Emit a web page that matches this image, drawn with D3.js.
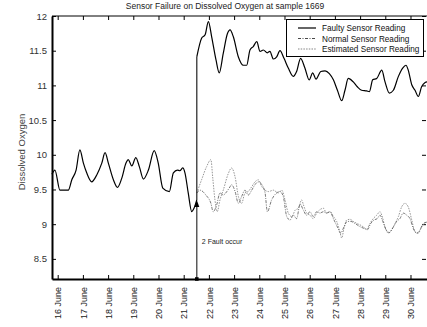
<!DOCTYPE html>
<html>
<head>
<meta charset="utf-8">
<script src="https://cdn.jsdelivr.net/npm/d3@7"></script>
<style>
  html, body { margin: 0; padding: 0; background: #fff; }
  svg { display: block; }
  text { font-family: Arial, "Liberation Sans", sans-serif; }
</style>
</head>
<body>
<svg id="chart" width="427" height="327"></svg>
<script>
// Time axis is in days of June; values are dissolved oxygen readings.
const dayTicks = [16, 17, 18, 19, 20, 21, 22, 23, 24, 25, 26, 27, 28, 29, 30];
const valueTicks = [8.5, 9, 9.5, 10, 10.5, 11, 11.5, 12];
const faultDay = 21.52;

// Faulty sensor: healthy readings up to the fault, then the biased readings after it
const faultyDaysBefore = [15.77, 15.89, 16.09, 16.42, 16.56, 16.73, 16.88, 17.02, 17.15, 17.35, 17.55, 17.75, 17.88, 18.01, 18.21, 18.37, 18.54, 18.71, 18.80, 18.94, 19.10, 19.24, 19.40, 19.60, 19.83, 19.99, 20.17, 20.43, 20.59, 20.75, 20.85, 20.96, 21.05, 21.18, 21.32, 21.41, 21.52];
const faultyValuesBefore = [9.72, 9.78, 9.49, 9.49, 9.64, 9.78, 10.07, 9.88, 9.74, 9.61, 9.71, 9.88, 10.03, 9.88, 9.64, 9.53, 9.66, 9.88, 9.93, 9.84, 9.96, 9.83, 9.65, 9.78, 10.06, 9.88, 9.52, 9.47, 9.74, 9.78, 9.77, 9.81, 9.74, 9.45, 9.18, 9.23, 9.35];
const faultyDaysAfter = [21.52, 21.71, 21.85, 21.98, 22.11, 22.28, 22.41, 22.57, 22.73, 22.84, 22.97, 23.17, 23.37, 23.50, 23.63, 23.76, 23.90, 24.03, 24.16, 24.32, 24.42, 24.56, 24.69, 24.82, 24.98, 25.15, 25.35, 25.48, 25.64, 25.81, 25.98, 26.12, 26.25, 26.44, 26.61, 26.78, 26.94, 27.10, 27.27, 27.40, 27.53, 27.73, 27.89, 28.06, 28.26, 28.37, 28.50, 28.66, 28.86, 28.99, 29.16, 29.32, 29.52, 29.69, 29.82, 29.91, 30.05, 30.18, 30.31, 30.44, 30.58, 30.66];
const faultyValuesAfter = [11.41, 11.68, 11.73, 11.92, 11.70, 11.37, 11.18, 11.46, 11.74, 11.80, 11.70, 11.41, 11.29, 11.29, 11.51, 11.56, 11.63, 11.49, 11.51, 11.47, 11.49, 11.38, 11.41, 11.50, 11.39, 11.25, 11.13, 11.20, 11.39, 11.25, 11.08, 11.18, 11.09, 11.20, 11.21, 11.17, 11.08, 10.93, 10.78, 10.93, 11.10, 11.05, 10.98, 10.93, 10.92, 10.91, 11.08, 11.10, 11.22, 11.05, 10.89, 10.93, 11.13, 11.25, 11.29, 11.22, 11.01, 10.93, 10.84, 10.98, 11.04, 11.05];

const normalDays = [21.52, 21.65, 21.88, 22.08, 22.17, 22.31, 22.44, 22.57, 22.71, 22.84, 22.90, 23.04, 23.17, 23.30, 23.43, 23.56, 23.70, 23.83, 23.96, 24.10, 24.23, 24.32, 24.49, 24.69, 24.82, 24.95, 25.09, 25.22, 25.35, 25.48, 25.62, 25.75, 25.88, 26.01, 26.14, 26.28, 26.41, 26.54, 26.67, 26.81, 26.94, 27.10, 27.23, 27.36, 27.49, 27.63, 27.80, 27.97, 28.15, 28.29, 28.42, 28.55, 28.68, 28.79, 28.90, 29.03, 29.16, 29.32, 29.45, 29.58, 29.71, 29.85, 29.98, 30.11, 30.25, 30.38, 30.51, 30.66];
const normalValues = [9.45, 9.49, 9.42, 9.30, 9.18, 9.28, 9.45, 9.42, 9.47, 9.54, 9.57, 9.47, 9.30, 9.40, 9.49, 9.42, 9.49, 9.57, 9.61, 9.57, 9.45, 9.18, 9.35, 9.45, 9.47, 9.40, 9.11, 9.06, 9.13, 9.08, 9.29, 9.20, 9.13, 9.18, 9.11, 9.18, 9.16, 9.18, 9.16, 9.18, 9.08, 8.96, 8.87, 8.96, 9.04, 9.04, 9.01, 8.97, 8.94, 8.92, 9.01, 9.06, 9.08, 9.13, 9.04, 8.92, 8.88, 8.96, 9.04, 9.08, 9.16, 9.13, 9.08, 8.94, 8.87, 8.92, 9.01, 9.03];

const estimatedDays = [21.52, 21.71, 21.91, 22.08, 22.15, 22.24, 22.33, 22.44, 22.57, 22.77, 22.90, 23.04, 23.17, 23.30, 23.43, 23.56, 23.70, 23.83, 23.96, 24.10, 24.23, 24.36, 24.56, 24.75, 24.89, 25.02, 25.15, 25.29, 25.42, 25.55, 25.68, 25.75, 25.88, 26.01, 26.14, 26.28, 26.41, 26.54, 26.67, 26.81, 26.94, 27.07, 27.20, 27.27, 27.36, 27.47, 27.60, 27.73, 27.87, 28.00, 28.13, 28.26, 28.39, 28.52, 28.66, 28.79, 28.86, 28.99, 29.12, 29.25, 29.39, 29.52, 29.65, 29.78, 29.91, 30.05, 30.18, 30.31, 30.44, 30.58, 30.66];
const estimatedValues = [9.45, 9.64, 9.83, 9.93, 9.68, 9.35, 9.18, 9.35, 9.49, 9.73, 9.81, 9.68, 9.40, 9.30, 9.45, 9.47, 9.54, 9.61, 9.64, 9.54, 9.49, 9.47, 9.49, 9.45, 9.49, 9.35, 9.16, 9.11, 9.20, 9.23, 9.35, 9.28, 9.16, 9.13, 9.08, 9.16, 9.21, 9.23, 9.16, 9.18, 9.11, 9.04, 8.89, 8.80, 8.94, 9.06, 9.07, 9.04, 9.01, 8.99, 8.96, 8.93, 9.01, 9.08, 9.13, 9.18, 9.13, 8.96, 8.87, 8.92, 9.01, 9.11, 9.25, 9.30, 9.25, 9.06, 8.89, 8.87, 8.96, 9.02, 9.03];

const seriesNames = ["Faulty Sensor Reading", "Normal Sensor Reading", "Estimated Sensor Reading"];

const svg = d3.select("#chart");
const plot = { left: 52, right: 427, top: 16, bottom: 279 };

const x = d3.scaleLinear().domain([15.774, 30.655]).range([plot.left, plot.right]);
const y = d3.scaleLinear().domain([8.21, 12]).range([plot.bottom, plot.top]);

const zip = (xs, ys) => xs.map((d, i) => [d, ys[i]]);
const line = d3.line().x(d => x(d[0])).y(d => y(d[1])).curve(d3.curveMonotoneX);

// Title
svg.append("text")
  .attr("x", 225).attr("y", 9)
  .attr("text-anchor", "middle")
  .attr("font-size", 8.5)
  .attr("fill", "#222")
  .text("Sensor Failure on Dissolved Oxygen at sample 1669");

// Y axis label
svg.append("text")
  .attr("transform", "translate(25,152) rotate(-90)")
  .attr("text-anchor", "middle")
  .attr("font-size", 9.5)
  .attr("fill", "#444")
  .text("Dissolved Oxygen");

// Top edge of the frame
svg.append("line").attr("x1", plot.left).attr("x2", plot.right)
  .attr("y1", plot.top).attr("y2", plot.top).attr("stroke", "#000").attr("stroke-width", 1);

// Axes with inward ticks
const xAxis = d3.axisBottom(x).tickValues(dayTicks).tickSize(-4).tickSizeOuter(0).tickFormat(d => `${d} June`);
const gx = svg.append("g").attr("transform", `translate(0,${plot.bottom})`).call(xAxis);
gx.select(".domain").attr("stroke", "#000").attr("stroke-width", 2);
gx.selectAll(".tick line").attr("stroke", "#000");
gx.selectAll(".tick text")
  .attr("transform", "rotate(-90)")
  .attr("text-anchor", "end")
  .attr("x", -8).attr("y", 0).attr("dy", "0.35em")
  .attr("font-size", 9).attr("font-family", "Arial, 'Liberation Sans', sans-serif")
  .attr("fill", "#222");

const xTop = d3.axisTop(x).tickValues(dayTicks).tickSize(-4).tickSizeOuter(0).tickFormat("");
const gxt = svg.append("g").attr("transform", `translate(0,${plot.top})`).call(xTop);
gxt.select(".domain").remove();
gxt.selectAll(".tick line").attr("stroke", "#000");

const yAxis = d3.axisLeft(y).tickValues(valueTicks).tickSize(-4).tickSizeOuter(0).tickFormat(d3.format("~g"));
const gy = svg.append("g").attr("transform", `translate(${plot.left},0)`).call(yAxis);
gy.select(".domain").attr("stroke", "#000").attr("stroke-width", 2);
gy.selectAll(".tick line").attr("stroke", "#000");
gy.selectAll(".tick text")
  .attr("x", -5)
  .attr("font-size", 9.5).attr("font-family", "Arial, 'Liberation Sans', sans-serif")
  .attr("fill", "#333");

const yRight = d3.axisRight(y).tickValues(valueTicks).tickSize(-4).tickSizeOuter(0).tickFormat("");
const gyr = svg.append("g").attr("transform", `translate(${plot.right - 1},0)`).call(yRight);
gyr.select(".domain").remove();
gyr.selectAll(".tick line").attr("stroke", "#000");

// Data lines
svg.append("path").datum(zip(estimatedDays, estimatedValues))
  .attr("d", line).attr("fill", "none")
  .attr("stroke", "#8a8a8a").attr("stroke-width", 0.9)
  .attr("stroke-dasharray", "1.5,1.2");

svg.append("path").datum(zip(normalDays, normalValues))
  .attr("d", line).attr("fill", "none")
  .attr("stroke", "#555").attr("stroke-width", 0.8)
  .attr("stroke-dasharray", "3,1.2,1,1.2");

const faultyStyle = sel => sel.attr("fill", "none")
  .attr("stroke", "#000").attr("stroke-width", 1.2)
  .attr("stroke-linejoin", "round");
svg.append("path").datum(zip(faultyDaysBefore, faultyValuesBefore)).attr("d", line).call(faultyStyle);
svg.append("path").datum(zip(faultyDaysAfter, faultyValuesAfter)).attr("d", line).call(faultyStyle);

// Jump in the faulty reading at the fault
const faultValue = faultyValuesBefore[faultyValuesBefore.length - 1];
const fx = x(faultDay);
svg.append("line")
  .attr("x1", fx).attr("x2", fx)
  .attr("y1", y(faultValue)).attr("y2", y(faultyValuesAfter[0]))
  .attr("stroke", "#222").attr("stroke-width", 1.2);

// Fault marker: arrow from the time axis up to the reading at the fault
svg.append("line")
  .attr("x1", fx).attr("x2", fx)
  .attr("y1", plot.bottom).attr("y2", y(faultValue) + 6)
  .attr("stroke", "#333").attr("stroke-width", 1.2);
svg.append("path")
  .attr("d", `M${fx},${y(faultValue)} L${fx - 2.5},${y(faultValue) + 7} L${fx + 2.5},${y(faultValue) + 7} Z`)
  .attr("fill", "#000");
svg.append("rect")
  .attr("x", fx - 1.8).attr("y", plot.bottom - 1.8)
  .attr("width", 3.6).attr("height", 3.6).attr("fill", "#000");
svg.append("text")
  .attr("x", fx + 5).attr("y", y(8.5) - 15)
  .attr("font-family", "'Liberation Serif', 'DejaVu Serif', serif")
  .attr("font-size", 7)
  .attr("fill", "#222")
  .text("2 Fault occur");

// Legend
const legend = svg.append("g");
legend.append("rect")
  .attr("x", 286.5).attr("y", 19.5).attr("width", 137).attr("height", 37)
  .attr("fill", "#fff").attr("stroke", "#000").attr("stroke-width", 1);
const legendStyles = [
  { stroke: "#000", width: 1.2, dash: null },
  { stroke: "#333", width: 0.9, dash: "3,1.5,1,1.5" },
  { stroke: "#777", width: 0.9, dash: "1.5,1.2" }
];
seriesNames.forEach((name, i) => {
  const ly = 28 + i * 10.5;
  legend.append("line")
    .attr("x1", 298).attr("x2", 316).attr("y1", ly).attr("y2", ly)
    .attr("stroke", legendStyles[i].stroke)
    .attr("stroke-width", legendStyles[i].width)
    .attr("stroke-dasharray", legendStyles[i].dash);
  legend.append("text")
    .attr("x", 322).attr("y", ly + 3)
    .attr("font-size", 8.2)
    .attr("fill", "#111")
    .text(name);
});
</script>
</body>
</html>
